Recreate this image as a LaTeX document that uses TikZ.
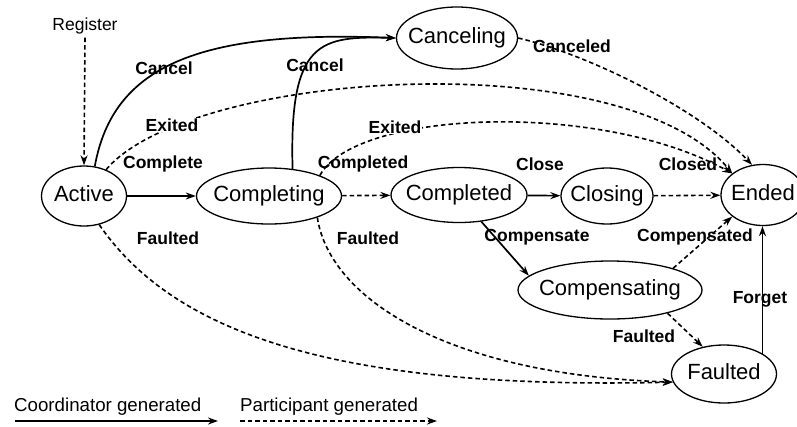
\documentclass[tikz,border=0pt]{standalone}
\usepackage{fontspec}
\setmainfont{Liberation Sans}
\usetikzlibrary{shapes.geometric, arrows.meta}

\begin{document}
\begin{tikzpicture}[x=1pt, y=1pt,
    every node/.style={font=\fontsize{22}{26}\selectfont},
    wsstate/.style={ellipse, draw, line width=1.3pt, inner sep=0pt, text height=16pt, text depth=5pt},
    trans/.style={font=\bfseries\fontsize{17.5}{20}\selectfont, inner sep=1pt},
    legend/.style={font=\fontsize{18.7}{22}\selectfont, inner sep=0pt, anchor=west},
    coord/.style={line width=1.7pt, -{Stealth[length=10pt,width=7pt]}},
    part/.style={line width=1.6pt, dash pattern=on 4.5pt off 3pt, -{Stealth[length=10pt,width=7pt]}}]

    % Text of a state sits in a box of no width, so that the ellipse takes its size from the options
    \def\stxt#1{\makebox[0pt]{#1}}

    % Page size of the reference
    \useasboundingbox (0,0) rectangle (797,-426);

    % States of the protocol
    \node[wsstate, minimum width=85pt,  minimum height=60pt] (Active)       at (84,-196)  {\stxt{Active}};
    \node[wsstate, minimum width=145pt, minimum height=56pt] (Completing)   at (269,-196) {\stxt{Completing}};
    \node[wsstate, minimum width=136pt, minimum height=55pt] (Completed)    at (459,-195) {\stxt{Completed}};
    \node[wsstate, minimum width=92pt,  minimum height=56pt] (Closing)      at (607,-196) {\stxt{Closing}};
    \node[wsstate, minimum width=84pt,  minimum height=61pt] (Ended)        at (763,-195) {\stxt{Ended}};
    \node[wsstate, minimum width=121pt, minimum height=62pt] (Canceling)    at (457,-38)  {\stxt{Canceling}};
    \node[wsstate, minimum width=184pt, minimum height=58pt] (Compensating) at (610,-290) {\stxt{Compensating}};
    \node[wsstate, minimum width=105pt, minimum height=58pt] (Faulted)      at (724,-374) {\stxt{Faulted}};

    % Entry point
    \node[font=\fontsize{17.5}{20}\selectfont] (Register) at (85,-26) {Register};
    \draw[part] (Register.south) -- (Active.north);

    % Main line: Active -> Completing -> Completed -> Closing -> Ended
    \draw[coord] (Active) -- (Completing);
    \draw[part]  (Completing) -- (Completed);
    \draw[coord] (Completed) -- (Closing);
    \draw[part]  (Closing) -- (Ended);

    % Cancel, from Active and from Completing
    \draw[coord] (Active.70) .. controls (113,-65) and (200,-30) .. (Canceling.west);
    \draw[coord] (Completing.49) .. controls (289,-40) and (320,-36) .. (Canceling.west);
    \draw[part]  (Canceling.east) .. controls (590,-55) and (700,-110) .. (Ended.110);

    % Exited, from Active and from Completing
    \draw[part] (Active.50) .. controls (190,-70) and (625,-42) .. (Ended.145);
    \draw[part] (Completing.22) .. controls (355,-110) and (600,-100) .. (Ended.145);

    % Compensation branch
    \draw[coord] (Completed.-50) -- (Compensating.170);
    \draw[part]  (Compensating.19) -- (Ended.215);
    \draw[part]  (Compensating.-22) -- (Faulted.128);

    % Faulted, from Active and from Completing
    \draw[part] (Active.-62) .. controls (175,-335) and (340,-390) .. (Faulted.189);
    \draw[part] (Completing.-24) .. controls (330,-300) and (450,-375) .. (Faulted.189);

    % Forget
    \draw[coord] (Faulted.28) -- (Faulted.28 |- Ended.south);

    % Transition labels
    \node[trans] (lCancelA)      at (164,-68)  {Cancel};
    \node[trans] (lCancelB)      at (315,-65)  {Cancel};
    \node[trans, fill=white] (lExitedA) at (172,-125) {Exited};
    \node[trans, fill=white] (lExitedB) at (395,-127) {Exited};
    \node[trans] (lComplete)     at (163,-164) {Complete};
    \node[trans] (lCompleted)    at (363,-164) {Completed};
    \node[trans] (lClose)        at (540,-164) {Close};
    \node[trans] (lClosed)       at (688,-164) {Closed};
    \node[trans] (lCanceled)     at (572,-46)  {Canceled};
    \node[trans] (lFaultedA)     at (168,-238) {Faulted};
    \node[trans] (lFaultedB)     at (368,-238) {Faulted};
    \node[trans] (lCompensate)   at (537,-237) {Compensate};
    \node[trans] (lCompensated)  at (695,-237) {Compensated};
    \node[trans] (lFaultedC)     at (644,-336) {Faulted};
    \node[trans] (lForget)       at (760,-299) {Forget};

    % Legend
    \node[legend] (legCoord) at (14,-407)  {Coordinator generated};
    \node[legend] (legPart)  at (240,-407) {Participant generated};
    \coordinate (legCoord_start) at (15,-421);
    \coordinate (legCoord_end)   at (218,-421);
    \coordinate (legPart_start)  at (240,-421);
    \coordinate (legPart_end)    at (437,-421);
    \draw[coord] (legCoord_start) -- (legCoord_end);
    \draw[part]  (legPart_start) -- (legPart_end);

\end{tikzpicture}
\end{document}
